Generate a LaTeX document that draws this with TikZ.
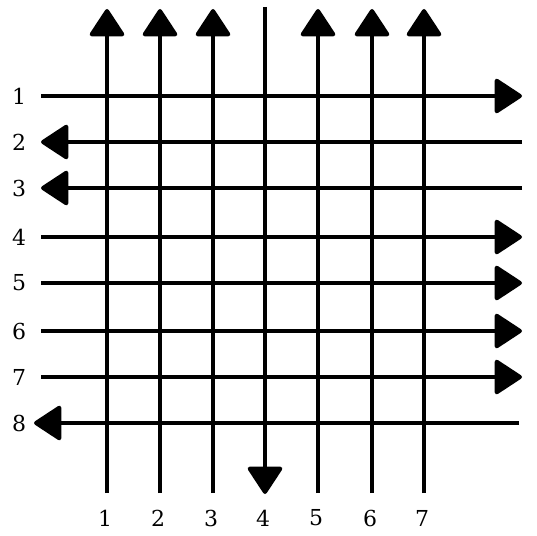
\documentclass[tikz,border=0pt]{standalone}
\usepackage{fontspec}
\setmainfont{DejaVu Serif}
\usetikzlibrary{arrows.meta}

\tikzset{
  lane/.style={line width=4pt,-{Triangle[length=29pt,width=37pt,round]}},
  num/.style={font=\fontsize{22}{26}\selectfont,inner sep=0pt}
}

\begin{document}
\begin{tikzpicture}[x=1pt,y=-1pt,join=round] % one-way street grid
   \useasboundingbox (0,0) rectangle (537,535);
   % columns
   \foreach \c/\x in {1/107,2/160,3/213,4/265,5/318,6/372,7/424}{
       \coordinate (ctop\c) at (\x,9);
       \coordinate (cbot\c) at (\x,493);
       \node[num] (clab\c) at (\x-2,518) {\c};
   }
   % rows
   \foreach \r/\y in {1/96,2/142,3/188,4/237,5/283,6/331,7/377,8/423}{
       \coordinate (rleft\r) at (41,\y);
       \coordinate (rright\r) at (522,\y);
       \node[num] (rlab\r) at (19,\y) {\r};
   }
   \coordinate (rleft8) at (34,423);
   \coordinate (rright8) at (519,423);
   \coordinate (cbot4) at (265,494);
   \coordinate (ctop4) at (265,7);
   % northbound
   \draw[lane] (cbot1)--(ctop1);
   \draw[lane] (cbot2)--(ctop2);
   \draw[lane] (cbot3)--(ctop3);
   \draw[lane] (cbot5)--(ctop5);
   \draw[lane] (cbot6)--(ctop6);
   \draw[lane] (cbot7)--(ctop7);
   % southbound
   \draw[lane] (ctop4)--(cbot4);
   % eastbound
   \draw[lane] (rleft1)--(rright1);
   \draw[lane] (rleft4)--(rright4);
   \draw[lane] (rleft5)--(rright5);
   \draw[lane] (rleft6)--(rright6);
   \draw[lane] (rleft7)--(rright7);
   % westbound
   \draw[lane] (rright2)--(rleft2);
   \draw[lane] (rright3)--(rleft3);
   \draw[lane] (rright8)--(rleft8);
\end{tikzpicture}
\end{document}
